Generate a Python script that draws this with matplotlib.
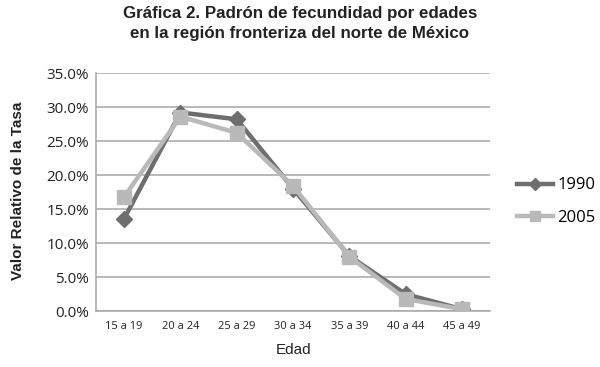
import matplotlib
matplotlib.use("Agg")
import matplotlib.pyplot as plt
from matplotlib.ticker import FuncFormatter

categories = ["15 a 19", "20 a 24", "25 a 29", "30 a 34", "35 a 39", "40 a 44", "45 a 49"]
series_1990 = [13.6, 29.2, 28.2, 18.0, 8.1, 2.5, 0.3]
series_2005 = [16.8, 28.6, 26.2, 18.4, 8.0, 1.8, 0.3]
yticks = [0, 5, 10, 15, 20, 25, 30, 35]

fig = plt.figure(figsize=(6.0, 3.67), dpi=100)
ax = fig.add_axes([0.16, 0.152, 0.657, 0.649])

x = list(range(len(categories)))
ax.plot(x, series_1990, color="#6e6e6e", lw=3.2, marker="D", ms=8.5,
        markeredgecolor="#6e6e6e", label="1990", zorder=3)
ax.plot(x, series_2005, color="#b9b9b9", lw=3.2, marker="s", ms=10,
        markeredgecolor="#b9b9b9", label="2005", zorder=4)

ax.set_xlim(-0.5, len(categories) - 0.5)
ax.set_ylim(0, 35)
ax.set_yticks(yticks)
ax.yaxis.set_major_formatter(FuncFormatter(lambda v, p: f"{v:.1f}%"))
ax.set_xticks(x)
ax.set_xticklabels(categories, fontsize=8, color="#222222", family="Open Sans")
for t in ax.get_yticklabels():
    t.set_fontsize(11)
    t.set_color("#222222")
    t.set_family("Open Sans")
ax.tick_params(axis="y", length=0, pad=5)
ax.tick_params(axis="x", length=0, pad=7)
ax.grid(axis="y", color="#a6a6a6", lw=1.1)
ax.set_axisbelow(True)
for s in ["top", "right"]:
    ax.spines[s].set_visible(False)
for s in ["left", "bottom"]:
    ax.spines[s].set_color("#a6a6a6")
    ax.spines[s].set_linewidth(1.1)

ax.set_xlabel("Edad", fontsize=11, family="Liberation Sans", color="#222222", labelpad=8)
fig.text(0.03, 0.48, "Valor Relativo de la Tasa", rotation=90, ha="center", va="center",
         fontsize=11, fontweight="bold", family="Liberation Sans", color="#222222")

fig.text(0.5, 0.985, "Gráfica 2. Padrón de fecundidad por edades\nen la región fronteriza del norte de México",
         ha="center", va="top", fontsize=12.2, fontweight="bold", family="Liberation Sans",
         color="#222222", linespacing=1.45)

leg = ax.legend(loc="upper left", bbox_to_anchor=(1.05, 0.59), frameon=False,
                handlelength=2.2, labelspacing=1.0, handletextpad=0.25,
                borderaxespad=0.0, markerscale=0.75,
                prop={"family": "Open Sans", "size": 12})

fig.savefig("out.png", dpi=100)
